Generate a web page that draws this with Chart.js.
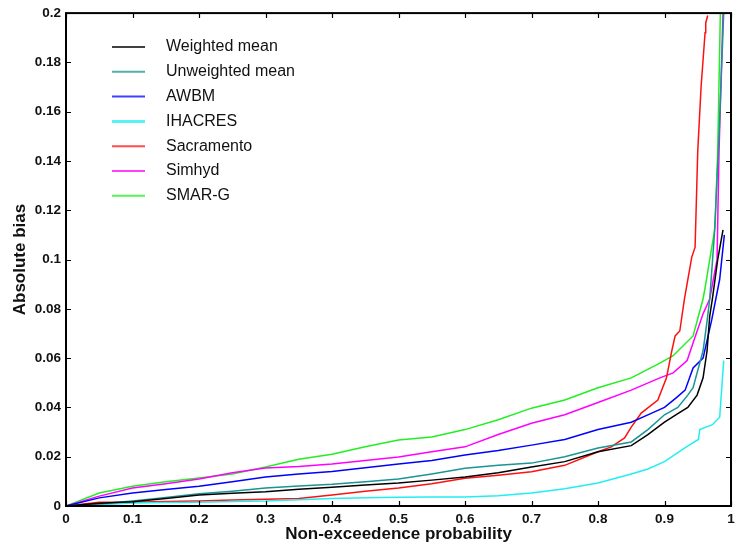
<!DOCTYPE html>
<html>
<head>
<meta charset="utf-8">
<script src="https://cdn.jsdelivr.net/npm/chart.js@4.4.1/dist/chart.umd.min.js"></script>
<style>
  html, body { margin: 0; padding: 0; background: #fff; }
  #wrap { width: 736px; height: 544px; }
</style>
</head>
<body>
<div id="wrap"><canvas id="bias"></canvas></div>
<script>
// series names and colours
var seriesNames = ['Weighted mean', 'Unweighted mean', 'AWBM', 'IHACRES', 'Sacramento', 'Simhyd', 'SMAR-G'];
var seriesColors = ['#000000', '#1a9494', '#0000ff', '#22eef2', '#ff1010', '#ff00ff', '#22ee22'];

// non-exceedence probability (x) and absolute bias (y)
var probBody = [0, 0.05, 0.1, 0.15, 0.2, 0.25, 0.3, 0.35, 0.4, 0.45, 0.5, 0.55, 0.6, 0.65, 0.7, 0.75, 0.8, 0.85];

var probWeighted = probBody.concat([0.875, 0.9, 0.92, 0.935, 0.949, 0.958, 0.964, 0.968, 0.972, 0.98, 0.988]);
var biasWeighted = [0, 0.0011, 0.0017, 0.003, 0.0045, 0.0052, 0.0058, 0.0068, 0.0076, 0.0085, 0.0093, 0.0105, 0.0118, 0.0135, 0.0158, 0.018, 0.022, 0.0245,
    0.029, 0.034, 0.0375, 0.040, 0.045, 0.052, 0.063, 0.077, 0.084, 0.1, 0.112];

var probUnweighted = probBody.concat([0.875, 0.9, 0.92, 0.935, 0.943, 0.958, 0.964, 0.968, 0.975, 0.982, 0.989]);
var biasUnweighted = [0, 0.0008, 0.002, 0.0035, 0.005, 0.006, 0.0073, 0.0081, 0.0088, 0.0098, 0.011, 0.013, 0.0153, 0.0165, 0.0174, 0.02, 0.0235, 0.026,
    0.031, 0.037, 0.040, 0.045, 0.048, 0.063, 0.075, 0.084, 0.11, 0.15, 0.2];

var probAwbm = probBody.concat([0.875, 0.9, 0.918, 0.931, 0.943, 0.958, 0.971, 0.983, 0.99]);
var biasAwbm = [0, 0.0033, 0.0053, 0.0067, 0.008, 0.0098, 0.0118, 0.013, 0.014, 0.0155, 0.017, 0.0185, 0.0207, 0.0225, 0.0247, 0.027, 0.031, 0.034,
    0.037, 0.040, 0.044, 0.047, 0.056, 0.060, 0.0755, 0.092, 0.11];

var probIhacres = probBody.concat([0.875, 0.9, 0.93, 0.951, 0.953, 0.972, 0.983, 0.989]);
var biasIhacres = [0, 0.0005, 0.0012, 0.0014, 0.0015, 0.0018, 0.002, 0.0025, 0.003, 0.0033, 0.0036, 0.0037, 0.0037, 0.0042, 0.0053, 0.007, 0.0093, 0.013,
    0.015, 0.018, 0.0235, 0.027, 0.031, 0.033, 0.036, 0.059];

var probSacramento = probBody.slice(0, 17).concat([0.82, 0.84, 0.85, 0.865, 0.89, 0.903, 0.911, 0.916, 0.923, 0.93, 0.941, 0.946, 0.95, 0.955, 0.961, 0.962, 0.965]);
var biasSacramento = [0, 0.0015, 0.0015, 0.0018, 0.002, 0.0024, 0.0027, 0.003, 0.0045, 0.006, 0.0073, 0.009, 0.0113, 0.0125, 0.0139, 0.0165, 0.022,
    0.024, 0.0276, 0.032, 0.0377, 0.043, 0.052, 0.063, 0.069, 0.071, 0.084, 0.101, 0.105, 0.144, 0.17, 0.192, 0.196, 0.199];

var probSimhyd = probBody.concat([0.893, 0.913, 0.934, 0.946, 0.958, 0.968, 0.979, 0.982, 0.988]);
var biasSimhyd = [0, 0.004, 0.0073, 0.009, 0.011, 0.0135, 0.0154, 0.016, 0.017, 0.0185, 0.0199, 0.022, 0.024, 0.029, 0.0336, 0.037, 0.042, 0.047,
    0.052, 0.054, 0.059, 0.0686, 0.078, 0.084, 0.1, 0.144, 0.2];

var probSmarg = probBody.concat([0.893, 0.913, 0.943, 0.958, 0.962, 0.968, 0.976, 0.98, 0.984]);
var biasSmarg = [0, 0.0053, 0.008, 0.0098, 0.0114, 0.013, 0.0158, 0.019, 0.021, 0.024, 0.0268, 0.028, 0.031, 0.035, 0.0397, 0.043, 0.048, 0.052,
    0.058, 0.061, 0.069, 0.084, 0.09, 0.1, 0.113, 0.144, 0.2];

var allProb = [probWeighted, probUnweighted, probAwbm, probIhacres, probSacramento, probSimhyd, probSmarg];
var allBias = [biasWeighted, biasUnweighted, biasAwbm, biasIhacres, biasSacramento, biasSimhyd, biasSmarg];

var FONT = "'Liberation Sans', Arial, sans-serif";

function toPoints(xs, ys) {
    var pts = [];
    xs.map(function (x, i) {
        pts.push({ x: x, y: ys[i] });
    });
    return pts;
}

// 0.20 -> "0.2", 1.0 -> "1"
function shortLabel(value) {
    return String(Number(value.toFixed(2)));
}

// box round the plot and inward ticks on all four sides
var framePlugin = {
    id: 'frame',
    afterDatasetsDraw: function (chart) {
        var ctx = chart.ctx;
        var a = chart.chartArea;
        var xs = chart.scales.x, ys = chart.scales.y;
        var len = 5;
        ctx.save();
        ctx.strokeStyle = '#000';
        ctx.lineWidth = 1.2;
        ctx.beginPath();
        xs.ticks.forEach(function (t) {
            var px = Math.round(xs.getPixelForValue(t.value)) + 0.5;
            ctx.moveTo(px, a.bottom); ctx.lineTo(px, a.bottom - len);
            ctx.moveTo(px, a.top); ctx.lineTo(px, a.top + len);
        });
        ys.ticks.forEach(function (t) {
            var py = Math.round(ys.getPixelForValue(t.value)) + 0.5;
            ctx.moveTo(a.left, py); ctx.lineTo(a.left + len, py);
            ctx.moveTo(a.right, py); ctx.lineTo(a.right - len, py);
        });
        ctx.stroke();
        ctx.lineWidth = 2;
        ctx.strokeRect(a.left, a.top, a.right - a.left, a.bottom - a.top);
        ctx.restore();
    }
};

// legend inside the plot, top left
var legendPlugin = {
    id: 'insideLegend',
    afterDatasetsDraw: function (chart) {
        var ctx = chart.ctx;
        ctx.save();
        ctx.font = '16px ' + FONT;
        ctx.textBaseline = 'middle';
        ctx.fillStyle = '#111';
        seriesNames.map(function (name, i) {
            var y = 47 + i * 24.8;
            ctx.strokeStyle = seriesColors[i];
            ctx.lineWidth = i === 3 ? 3 : 2;
            ctx.globalAlpha = 0.75;
            ctx.beginPath();
            ctx.moveTo(112, y);
            ctx.lineTo(145, y);
            ctx.stroke();
            ctx.globalAlpha = 1;
            ctx.fillText(name, 166, y);
        });
        ctx.restore();
    }
};

function drawChart() {
    var datasets = [];
    seriesNames.map(function (name, i) {
        datasets.push({
            label: name,
            data: toPoints(allProb[i], allBias[i]),
            borderColor: seriesColors[i],
            borderWidth: 1.5,
            pointRadius: 0,
            tension: 0,
            fill: false
        });
    });

    var config = {
        type: 'line',
        data: { datasets: datasets },
        options: {
            responsive: true,
            maintainAspectRatio: false,
            animation: false,
            layout: { padding: { left: 0, right: 5, top: 13, bottom: 0 } },
            plugins: {
                legend: { display: false },
                tooltip: { enabled: false }
            },
            scales: {
                x: {
                    type: 'linear',
                    min: 0,
                    max: 1,
                    grid: { display: false, drawTicks: false },
                    border: { display: false },
                    ticks: {
                        stepSize: 0.1,
                        padding: 5,
                        color: '#111',
                        font: { family: FONT, size: 13.5, weight: 'bold' },
                        callback: shortLabel
                    },
                    title: {
                        display: true,
                        text: 'Non-exceedence probability',
                        color: '#111',
                        font: { family: FONT, size: 17, weight: 'bold', lineHeight: 1 },
                        padding: { top: 0, bottom: 1 }
                    },
                    afterFit: function (s) { s.height = 38; s.paddingRight = 0; }
                },
                y: {
                    min: 0,
                    max: 0.2,
                    grid: { display: false, drawTicks: false },
                    border: { display: false },
                    ticks: {
                        stepSize: 0.02,
                        padding: 5,
                        color: '#111',
                        font: { family: FONT, size: 13.5, weight: 'bold' },
                        callback: shortLabel
                    },
                    title: {
                        display: true,
                        text: 'Absolute bias',
                        color: '#111',
                        font: { family: FONT, size: 17, weight: 'bold', lineHeight: 1 },
                        padding: { top: 12, bottom: 0 }
                    },
                    afterFit: function (s) { s.width = 66; }
                }
            }
        },
        plugins: [framePlugin, legendPlugin]
    };
    new Chart(document.getElementById('bias').getContext('2d'), config);
}

drawChart();
</script>
</body>
</html>
